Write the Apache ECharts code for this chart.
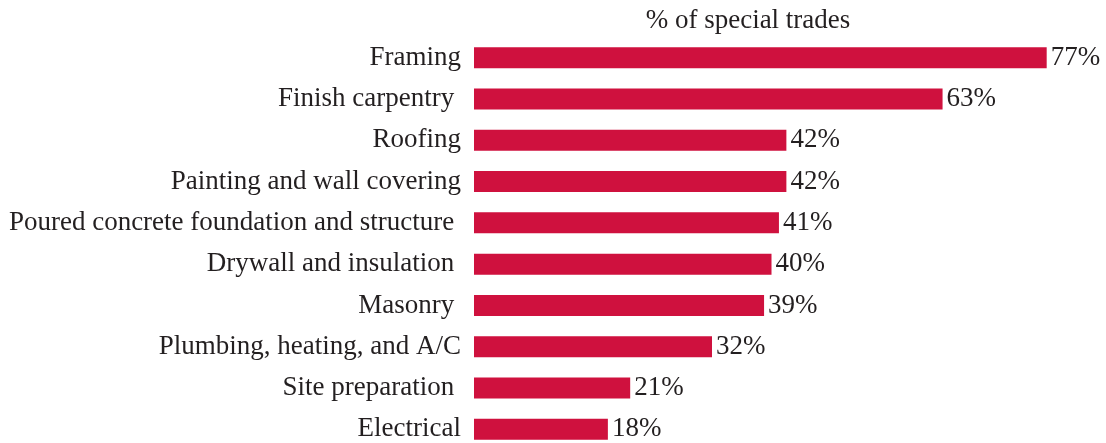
<!DOCTYPE html>
<html>
<head>
<meta charset="utf-8">
<style>
  html, body { margin: 0; padding: 0; background: #ffffff; overflow: hidden; }
  /* the plot runs slightly past the bottom edge of the window */
  #chart { width: 1106px; height: 452px; }
</style>
<script src="https://cdn.jsdelivr.net/npm/echarts@6/dist/echarts.min.js"></script>
</head>
<body>
<div id="chart"></div>
<script>
// Share of special trades firms by trade
const categories = [
  'Framing',
  'Finish carpentry ',
  'Roofing',
  'Painting and wall covering',
  'Poured concrete foundation and structure ',
  'Drywall and insulation ',
  'Masonry ',
  'Plumbing, heating, and A/C',
  'Site preparation ',
  'Electrical'
];
const shares = [77, 63, 42, 42, 41, 40, 39, 32, 21, 18];
const titleText = '% of special trades';

const FONT = '"Liberation Serif", "DejaVu Serif", serif';
const TEXT_COLOR = '#231f20';
const BAR_COLOR = '#cf113e';

const chart = echarts.init(document.getElementById('chart'), null, { renderer: 'canvas' });

chart.setOption({
  animation: false,
  backgroundColor: '#ffffff',
  title: {
    text: titleText,
    left: 743,
    textAlign: 'center',
    top: 2,
    textStyle: { fontFamily: FONT, fontWeight: 'normal', fontSize: 27, color: TEXT_COLOR }
  },
  grid: { left: 474, top: 37, right: 37, height: 413, containLabel: false },
  xAxis: {
    type: 'value',
    min: 0,
    max: 80,
    show: false
  },
  yAxis: {
    type: 'category',
    inverse: true,
    data: categories,
    axisLine: { show: false },
    axisTick: { show: false },
    splitLine: { show: false },
    axisLabel: {
      margin: 13,
      fontFamily: FONT,
      fontSize: 27,
      color: TEXT_COLOR
    }
  },
  series: [{
    type: 'bar',
    data: shares,
    barWidth: 21,
    itemStyle: { color: BAR_COLOR },
    label: {
      show: true,
      position: 'right',
      distance: 4,
      formatter: p => p.value + '%',
      fontFamily: FONT,
      fontSize: 27,
      color: TEXT_COLOR
    }
  }]
});
</script>
</body>
</html>
